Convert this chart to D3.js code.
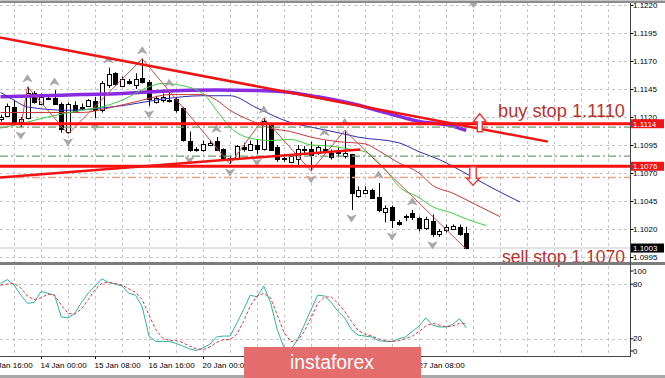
<!DOCTYPE html>
<meta charset="utf-8">
<style>
  body { margin: 0; background: #fff; }
  svg text { font-family: "Liberation Sans", Arial, sans-serif; }
  .grid { stroke: #c4c4c4; stroke-dasharray: 3,3; shape-rendering: crispEdges; }
</style>
<script src="https://d3js.org/d3.v7.min.js"></script>
<div id="chart"></div>
<script>

// ---- data (EURUSD H4, 13 Jan 00:00 ... ) ----
var candleOpen = [1.1118,1.1121,1.1129,1.1115,1.1119,1.1141,1.1132,1.1137,1.1137,1.1132,
  1.1107,1.1131,1.1129,1.1130,1.1134,1.1126,1.1148,1.1159,1.1148,1.1152,
  1.1149,1.1155,1.1151,1.1133,1.1135,1.1135,1.1136,1.1128,1.1099,1.1091,
  1.1091,1.1095,1.1099,1.1091,1.1082,1.1083,1.1093,1.1091,1.1095,1.1091,
  1.1113,1.1093,1.1083,1.1080,1.1082,1.1091,1.1091,1.1088,1.1091,1.1088,
  1.1089,1.1085,1.1087,1.1050,1.1052,1.1055,1.1049,1.1035,1.1040,1.1026,
  1.1031,1.1034,1.1030,1.1021,1.1027,1.1015,1.1019,1.1020,1.1022,1.1016];
var candleHigh = [1.1122,1.1132,1.1135,1.1120,1.1147,1.1143,1.1141,1.1139,1.1144,1.1133,
  1.1133,1.1134,1.1132,1.1136,1.1138,1.1152,1.1164,1.1160,1.1156,1.1154,
  1.1159,1.1172,1.1153,1.1139,1.1141,1.1143,1.1138,1.1129,1.1107,1.1093,
  1.1099,1.1099,1.1102,1.1092,1.1085,1.1095,1.1097,1.1099,1.1100,1.1119,
  1.1115,1.1095,1.1086,1.1086,1.1095,1.1094,1.1098,1.1095,1.1099,1.1091,
  1.1093,1.1108,1.1087,1.1058,1.1058,1.1056,1.1061,1.1041,1.1041,1.1028,
  1.1033,1.1037,1.1031,1.1031,1.1033,1.1020,1.1024,1.1024,1.1024,1.1022];
var candleLow = [1.1116,1.1120,1.1114,1.1111,1.1118,1.1132,1.1131,1.1135,1.1131,1.1106,
  1.1105,1.1124,1.1126,1.1129,1.1119,1.1124,1.1146,1.1148,1.1147,1.1149,
  1.1145,1.1150,1.1130,1.1132,1.1133,1.1133,1.1124,1.1098,1.1089,1.1089,
  1.1089,1.1094,1.1090,1.1082,1.1078,1.1082,1.1089,1.1090,1.1087,1.1090,
  1.1090,1.1080,1.1080,1.1079,1.1077,1.1086,1.1072,1.1086,1.1087,1.1082,
  1.1084,1.1083,1.1037,1.1048,1.1051,1.1047,1.1035,1.1026,1.1021,1.1023,
  1.1027,1.1028,1.1018,1.1019,1.1013,1.1013,1.1017,1.1019,1.1014,1.1002];
var candleClose = [1.1120,1.1130,1.1115,1.1118,1.1141,1.1133,1.1138,1.1136,1.1132,1.1110,
  1.1132,1.1126,1.1128,1.1135,1.1126,1.1150,1.1158,1.1149,1.1154,1.1150,
  1.1154,1.1151,1.1136,1.1137,1.1138,1.1134,1.1126,1.1099,1.1091,1.1090,
  1.1096,1.1097,1.1091,1.1083,1.1083,1.1094,1.1091,1.1096,1.1091,1.1116,
  1.1091,1.1082,1.1082,1.1085,1.1091,1.1090,1.1086,1.1093,1.1088,1.1084,
  1.1089,1.1088,1.1052,1.1055,1.1055,1.1048,1.1037,1.1039,1.1028,1.1024,
  1.1032,1.1030,1.1021,1.1029,1.1015,1.1018,1.1022,1.1023,1.1016,1.1003];

// moving averages: [bar index, price]
var maSlow = [[0,1.1138],[6,1.1139],[12,1.1140],[18,1.1141],[24,1.1143],[32,1.1144],[41,1.1143],
  [47,1.1138],[52,1.1132],[57,1.1124],[62,1.1116],[67,1.1112],[69,1.1108]];
var jaw = [[0,1.1142],[2,1.1135],[4,1.1129],[10,1.1126],[15,1.1128],[19,1.1131],[24,1.1136],[30,1.1139],
  [34,1.1139],[38,1.1128],[43,1.1115],[46,1.1111],[50,1.1106],[53,1.1102],[59,1.1097],[62,1.1089],
  [65,1.1082],[67,1.1076],[70,1.1066],[74,1.1053],[77,1.1044]];
var teeth = [[0,1.1124],[6,1.1124],[12,1.1124],[16,1.1128],[21,1.1135],[25,1.1140],[30,1.1140],[32,1.1135],
  [34,1.1126],[37,1.1117],[40,1.1110],[43,1.1107],[46,1.1102],[50,1.1098],[54,1.1096],[56,1.1090],
  [59,1.1079],[62,1.1070],[64,1.1059],[67,1.1052],[70,1.1043],[74,1.1031]];
var lips = [[0,1.1110],[3,1.1114],[7,1.1120],[12,1.1126],[15,1.1129],[18,1.1135],[22,1.1147],[24,1.1150],
  [26,1.1149],[30,1.1141],[32,1.1126],[34,1.1111],[37,1.1101],[40,1.1099],[43,1.1100],[46,1.1095],
  [49,1.1094],[52,1.1091],[54,1.1089],[57,1.1073],[59,1.1058],[62,1.1048],[64,1.1040],[67,1.1034],
  [69,1.1029],[72,1.1023]];

var zigzagIdx = [3,4,10,21,34,39,46,51,69];          // low, high, low, ...
var fractalUp = [4,8,16,21,25,32,39,48,51,56,61];
var fractalDown = [3,10,14,22,28,34,38,46,52,58,64];

var stochMain = [81,85,79,68,59,60,72,70,68,44,43,48,60,70,78,86,82,80,78,70,
  68,55,23,17,17,17,15,12,9,7,10,14,22,23,23,37,52,68,66,78,
  60,30,10,8,19,35,52,68,67,60,50,43,30,24,23,22,18,17,17,20,
  22,28,34,43,35,33,33,36,42,32];
var stochSignal = [79,80,81,76,67,63,65,69,68,57,48,47,53,63,74,81,82,81,79,75,
  71,63,46,30,21,18,18,16,12,9,8,11,16,19,19,25,39,56,67,70,
  65,46,27,17,18,28,43,59,66,66,59,50,39,29,25,23,20,18,17,18,
  20,23,28,34,37,35,33,34,37,37];

var priceTicks = ["1.1220","1.1195","1.1170","1.1145","1.1120","1.1095","1.1070","1.1045","1.1020","1.0995"];
var stochTicks = [100, 80, 20, 0];
var timeIdx = [-2, 6, 14, 22, 30, 38, 46, 54, 62];
var timeLabels = ["13 Jan 16:00","14 Jan 00:00","15 Jan 08:00","16 Jan 16:00","20 Jan 00:00",
  "21 Jan 08:00","22 Jan 16:00","24 Jan 00:00","27 Jan 08:00"];

var redLevels = [1.1114, 1.1076];
var greenLevels = [1.1111, 1.1085];
var orangeLevels = [1.1066];
var bidPrice = 1.1003;
var downTrend = [[-0.07,1.1191],[81.1,1.1098]];
var upTrend = [[-0.07,1.1066],[53.3,1.1091]];
var buyArrow = [71, 1.1114], sellArrow = [70, 1.1076];

// ---- layout ----
var W = 665, H = 378, plotRight = 630;
var mainTop = 3, mainBottom = 262, subTop = 266, subBottom = 357;
var banner = {x: 244, y: 347, w: 177, h: 31};

var x = d3.scaleLinear().domain([0, 1]).range([0.5, 7.25]);      // bar index -> px
var y = d3.scaleLinear().domain([1.1220, 1.0995]).range([5, 257]);
var ys = d3.scaleLinear().domain([100, 0]).range([266, 357]);
var px = function(i) { return Math.round(x(i)) + 0.5; };

var svg = d3.select("#chart").append("svg")
  .attr("width", W).attr("height", H);
svg.append("rect").attr("width", W).attr("height", H).attr("fill", "#fff");

svg.append("clipPath").attr("id", "clipMain").append("rect")
  .attr("x", 0).attr("y", mainTop).attr("width", plotRight).attr("height", mainBottom - mainTop);
svg.append("clipPath").attr("id", "clipSub").append("rect")
  .attr("x", 0).attr("y", subTop).attr("width", plotRight).attr("height", subBottom - subTop);

var main = svg.append("g").attr("clip-path", "url(#clipMain)");
var sub = svg.append("g").attr("clip-path", "url(#clipSub)");

// grid
var gridIdx = d3.range(2, 94, 4);
[main, sub].forEach(function(g, k) {
  g.selectAll(".vg").data(gridIdx).enter().append("line")
    .attr("class", "grid")
    .attr("x1", px).attr("x2", px)
    .attr("y1", k ? subTop : mainTop).attr("y2", k ? subBottom : mainBottom);
});
main.selectAll(".hg").data(priceTicks.map(Number)).enter().append("line")
  .attr("class", "grid")
  .attr("x1", 0).attr("x2", plotRight)
  .attr("y1", function(d) { return Math.round(y(d)) + 0.5; })
  .attr("y2", function(d) { return Math.round(y(d)) + 0.5; });
sub.selectAll(".hg").data([80, 20]).enter().append("line")
  .attr("class", "grid")
  .attr("x1", 0).attr("x2", plotRight)
  .attr("y1", function(d) { return Math.round(ys(d)) + 0.5; })
  .attr("y2", function(d) { return Math.round(ys(d)) + 0.5; });

// bid line
main.append("line")
  .attr("x1", 0).attr("x2", plotRight)
  .attr("y1", y(bidPrice)).attr("y2", y(bidPrice))
  .attr("stroke", "#c8c8c8").attr("stroke-width", 1);

// candles
var bars = d3.range(candleOpen.length);
main.selectAll(".wick").data(bars).enter().append("line")
  .attr("x1", px).attr("x2", px)
  .attr("y1", function(i) { return y(candleHigh[i]); })
  .attr("y2", function(i) { return y(candleLow[i]); })
  .attr("stroke", "#000").attr("stroke-width", 1);
main.selectAll(".body").data(bars).enter().append("rect")
  .attr("x", function(i) { return px(i) - 2; })
  .attr("width", 4)
  .attr("y", function(i) { return Math.round(y(Math.max(candleOpen[i], candleClose[i]))) + 0.5; })
  .attr("height", function(i) {
    return Math.max(1, Math.round(Math.abs(y(candleOpen[i]) - y(candleClose[i]))));
  })
  .attr("fill", function(i) { return candleClose[i] >= candleOpen[i] ? "#fff" : "#000"; })
  .attr("stroke", "#000").attr("stroke-width", 1);

// moving averages
var maLine = d3.line()
  .x(function(d) { return x(d[0]); })
  .y(function(d) { return y(d[1]); })
  .curve(d3.curveMonotoneX);
main.append("path").attr("d", maLine(maSlow))
  .attr("fill", "none").attr("stroke", "#8a2be2").attr("stroke-width", 3.5);
main.append("path").attr("d", maLine(jaw))
  .attr("fill", "none").attr("stroke", "#2b2bb8").attr("stroke-width", 1);
main.append("path").attr("d", maLine(teeth))
  .attr("fill", "none").attr("stroke", "#c83a3a").attr("stroke-width", 1);
main.append("path").attr("d", maLine(lips))
  .attr("fill", "none").attr("stroke", "#3ccf3c").attr("stroke-width", 1);

// zigzag
var zz = zigzagIdx.map(function(i, k) { return [i, k % 2 ? candleHigh[i] : candleLow[i]]; });
main.append("path")
  .attr("d", d3.line().x(function(d) { return x(d[0]); }).y(function(d) { return y(d[1]); })(zz))
  .attr("fill", "none").attr("stroke", "#d24a4a").attr("stroke-width", 1);

// fractals
main.selectAll(".fu").data(fractalUp).enter().append("path")
  .attr("d", "M0,-4L4.5,3L0,1L-4.5,3Z")
  .attr("transform", function(i) { return "translate(" + x(i) + "," + (y(candleHigh[i]) - 8) + ")"; })
  .attr("fill", "#a9a9a9").attr("stroke", "#8c8c8c").attr("stroke-width", 0.5);
main.selectAll(".fd").data(fractalDown).enter().append("path")
  .attr("d", "M0,4L4.5,-3L0,-1L-4.5,-3Z")
  .attr("transform", function(i) { return "translate(" + x(i) + "," + (y(candleLow[i]) + 8) + ")"; })
  .attr("fill", "#a9a9a9").attr("stroke", "#8c8c8c").attr("stroke-width", 0.5);

// horizontal levels and trendlines
main.selectAll(".gl").data(greenLevels).enter().append("line")
  .attr("x1", 0).attr("x2", plotRight)
  .attr("y1", y).attr("y2", y)
  .attr("stroke", "#6f9f6f").attr("stroke-width", 1.3).attr("stroke-dasharray", "8,3,2,3");
main.selectAll(".ol").data(orangeLevels).enter().append("line")
  .attr("x1", 0).attr("x2", plotRight)
  .attr("y1", y).attr("y2", y)
  .attr("stroke", "#eba487").attr("stroke-width", 1.3).attr("stroke-dasharray", "8,3,2,3");
main.selectAll(".rl").data(redLevels).enter().append("line")
  .attr("x1", 0).attr("x2", plotRight)
  .attr("y1", y).attr("y2", y)
  .attr("stroke", "#ff1010").attr("stroke-width", 3);
[downTrend, upTrend].forEach(function(t) {
  main.append("line")
    .attr("x1", x(t[0][0])).attr("y1", y(t[0][1]))
    .attr("x2", x(t[1][0])).attr("y2", y(t[1][1]))
    .attr("stroke", "#f01414").attr("stroke-width", 2.5);
});

// order arrows
main.append("path")
  .attr("d", "M0,-10L6.5,-2L2.5,-2L2.5,8L-2.5,8L-2.5,-2L-6.5,-2Z")
  .attr("transform", "translate(" + x(buyArrow[0]) + "," + y(buyArrow[1]) + ")")
  .attr("fill", "#fff").attr("stroke", "#ec3a3a").attr("stroke-width", 1.4);
main.append("path")
  .attr("d", "M-3.2,0.5L3.2,0.5L3.2,12L6.5,12L0,19L-6.5,12L-3.2,12Z")
  .attr("transform", "translate(" + x(sellArrow[0]) + "," + y(sellArrow[1]) + ")")
  .attr("fill", "#fff").attr("stroke", "#ec3a3a").attr("stroke-width", 1.4);

// chart shift marker
svg.append("path").attr("d", "M469.5,3L477.5,3L473.5,8Z").attr("fill", "#a8a8a8");

// stochastic
var stLine = d3.line().x(function(d, i) { return x(i); }).y(function(d) { return ys(d); });
sub.append("path").attr("d", stLine(stochMain))
  .attr("fill", "none").attr("stroke", "#2fb3a6").attr("stroke-width", 1);
sub.append("path").attr("d", stLine(stochSignal))
  .attr("fill", "none").attr("stroke", "#e03a3a").attr("stroke-width", 1)
  .attr("stroke-dasharray", "3,2");

// annotations
svg.append("text").text("buy stop 1.1110")
  .attr("x", 498).attr("y", y(redLevels[0]) - 6.8)
  .attr("textLength", 127).attr("lengthAdjust", "spacingAndGlyphs")
  .style("font-size", "17.5px").attr("fill", "#b8322f");
svg.append("text").text("sell stop 1.1070")
  .attr("x", 502).attr("y", 263)
  .attr("textLength", 123).attr("lengthAdjust", "spacingAndGlyphs")
  .style("font-size", "17.5px").attr("fill", "#b8322f");

// panel borders
svg.append("rect").attr("x", 0).attr("y", 0.5).attr("width", W).attr("height", 2.5).attr("fill", "#8c8c8c");
svg.append("rect").attr("x", 0).attr("y", 262).attr("width", W).attr("height", 3).attr("fill", "#7c7c7c");
svg.append("line").attr("x1", 0).attr("x2", plotRight + 1).attr("y1", 356.5).attr("y2", 356.5)
  .attr("stroke", "#444");
svg.append("line").attr("x1", plotRight + 0.5).attr("x2", plotRight + 0.5).attr("y1", 3).attr("y2", 357)
  .attr("stroke", "#444");
svg.append("rect").attr("x", 0).attr("y", 375).attr("width", W).attr("height", 3).attr("fill", "#a8a8a8");

// price axis
var pAxis = svg.append("g").attr("transform", "translate(" + (plotRight + 0.5) + ",0)")
  .call(d3.axisRight(y).tickValues(priceTicks.map(Number)).tickSize(3).tickPadding(0)
    .tickFormat(d3.format(".4f")));
pAxis.select(".domain").remove();
pAxis.selectAll("text").style("font-size", "8px").attr("fill", "#000").attr("x", 2.5);
pAxis.selectAll("line").attr("stroke", "#000");

// stochastic axis
var sAxis = svg.append("g").attr("transform", "translate(" + (plotRight + 0.5) + ",0)")
  .call(d3.axisRight(ys).tickValues(stochTicks).tickSize(3).tickPadding(0));
sAxis.select(".domain").remove();
sAxis.selectAll(".tick").attr("transform", function(d) {
  return "translate(0," + Math.max(271, Math.min(351, ys(d))) + ")";
});
sAxis.selectAll("text").style("font-size", "8px").attr("fill", "#000").attr("x", 2.5);
sAxis.selectAll("line").attr("stroke", "#000");

// level labels on the axis
redLevels.forEach(function(p) {
  svg.append("rect").attr("x", plotRight + 1).attr("y", y(p) - 4.5).attr("width", 33).attr("height", 9)
    .attr("fill", "#f01414");
  svg.append("text").text(d3.format(".4f")(p))
    .attr("x", plotRight + 3).attr("y", y(p) + 3)
    .style("font-size", "8px").attr("fill", "#fff");
});
svg.append("rect").attr("x", plotRight + 1).attr("y", y(bidPrice) - 4.5).attr("width", 33).attr("height", 9)
  .attr("fill", "#000");
svg.append("text").text(d3.format(".4f")(bidPrice))
  .attr("x", plotRight + 3).attr("y", y(bidPrice) + 3)
  .style("font-size", "8px").attr("fill", "#fff");

// time axis
var tAxis = svg.append("g").attr("transform", "translate(0,357)")
  .call(d3.axisBottom(x).tickValues(timeIdx).tickSize(2)
    .tickFormat(function(d, i) { return timeLabels[i]; }));
tAxis.select(".domain").remove();
tAxis.selectAll(".tick").attr("transform", function(d) { return "translate(" + px(d) + ",0)"; });
tAxis.selectAll("text").style("font-size", "8px").attr("fill", "#000")
  .attr("text-anchor", "start").attr("x", -1).attr("y", 10.5).attr("dy", 0);
tAxis.selectAll("line").attr("stroke", "#000");
// labels that sit entirely under the watermark banner are not visible in the chart
tAxis.selectAll("text").each(function(d) {
  var x0 = px(d) - 1, x1 = x0 + this.getComputedTextLength();
  if (x0 >= banner.x && x1 <= banner.x + banner.w) d3.select(this).remove();
});

// watermark banner
svg.append("rect").attr("x", banner.x).attr("y", banner.y).attr("width", banner.w).attr("height", banner.h)
  .attr("fill", "#e46c6c");
svg.append("text").text("instaforex")
  .attr("x", 290).attr("y", 368.5)
  .attr("textLength", 84).attr("lengthAdjust", "spacingAndGlyphs")
  .style("font-size", "19.5px").attr("fill", "#fff");

</script>
